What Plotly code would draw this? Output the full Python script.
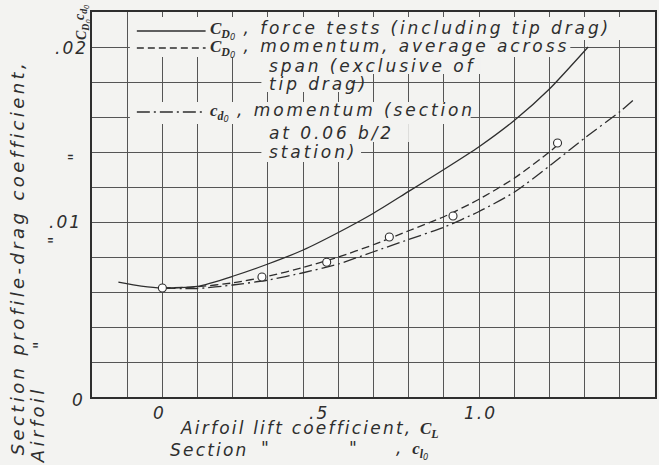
import plotly.graph_objects as go

# ---------------- data ----------------
force_cl = [-0.125, -0.06, 0.0, 0.1, 0.2, 0.3, 0.4, 0.5, 0.6, 0.7, 0.8, 0.9, 1.0, 1.1, 1.21]
force_cd = [0.00657, 0.00634, 0.00623, 0.00632, 0.0069, 0.0076, 0.0084, 0.0094, 0.0105, 0.01175,
            0.0130, 0.0143, 0.0158, 0.0176, 0.0200]

mom_avg_cl = [0.0, 0.1, 0.2, 0.3, 0.4, 0.5, 0.6, 0.7, 0.8, 0.9, 1.0, 1.1, 1.123]
mom_avg_cd = [0.00622, 0.0063, 0.00652, 0.0069, 0.0074, 0.0080, 0.0087, 0.0095, 0.0103, 0.0113, 0.0125,
              0.0140, 0.0144]

mom_pts_cl = [0.0, 0.283, 0.467, 0.645, 0.826, 1.123]
mom_pts_cd = [0.00623, 0.00686, 0.0077, 0.00914, 0.01034, 0.01451]

sect_cl = [0.0, 0.1, 0.2, 0.3, 0.4, 0.5, 0.6, 0.7, 0.8, 0.9, 1.0, 1.1, 1.2, 1.3, 1.34]
sect_cd = [0.00622, 0.0062, 0.0064, 0.00668, 0.0071, 0.0076, 0.0083, 0.0090, 0.0097, 0.0106, 0.0117,
           0.0132, 0.0148, 0.0163, 0.0170]

x_tick_vals = [0.0, 0.5, 1.0]
x_tick_text = ["0", ".5", "1.0"]
y_tick_vals = [0.0, 0.01, 0.02]
y_tick_text = ["0", ".01", ".02"]

# ---------------- layout geometry ----------------
W, H = 659, 465
L, R, T, B = 92, 2, 12, 68
x_range = [-0.2, 1.4]
y_range = [0.0, 0.022]


def px2x(px):
    return x_range[0] + (px - L) / (W - L - R) * (x_range[1] - x_range[0])


def py2y(py):
    return y_range[0] + (H - B - py) / (H - T - B) * (y_range[1] - y_range[0])


def px2p(px):
    return (px - L) / (W - L - R)


def py2p(py):
    return (H - B - py) / (H - T - B)


BG = "#f3f3f1"
INK = "#2e2e2e"
GRID = "#555555"
FONT = "DejaVu Sans, sans-serif"

fig = go.Figure()

fig.add_trace(go.Scatter(x=force_cl, y=force_cd, mode="lines",
                         line=dict(color=INK, width=1.3, shape="spline", smoothing=0.6), showlegend=False))
fig.add_trace(go.Scatter(x=mom_avg_cl, y=mom_avg_cd, mode="lines",
                         line=dict(color=INK, width=1.3, shape="spline", smoothing=0.6, dash="8px,4px"),
                         showlegend=False))
fig.add_trace(go.Scatter(x=sect_cl, y=sect_cd, mode="lines",
                         line=dict(color=INK, width=1.3, shape="spline", smoothing=0.6, dash="13px,4px,2px,4px"),
                         showlegend=False))
fig.add_trace(go.Scatter(x=mom_pts_cl, y=mom_pts_cd, mode="markers",
                         marker=dict(symbol="circle", size=8, color="white", line=dict(color=INK, width=1.1)),
                         showlegend=False))

shapes = []
# blank areas behind legend text (grid lines are interrupted there)
for (x0, x1, y0, y1) in [(130, 622, 17, 40), (130, 572, 40, 57), (262, 482, 57, 74), (262, 352, 74, 92),
                         (130, 472, 102, 124), (262, 410, 124, 142), (262, 362, 142, 162)]:
    shapes.append(dict(type="rect", xref="x", yref="y", x0=px2x(x0), x1=px2x(x1), y0=py2y(y1), y1=py2y(y0),
                       fillcolor=BG, line=dict(width=0), layer="between"))
# legend keys
for (py, dash) in [(31, "solid"), (48, "7px,4px"), (112, "13px,4px,2px,4px")]:
    shapes.append(dict(type="line", xref="x", yref="y", x0=px2x(137), x1=px2x(206), y0=py2y(py), y1=py2y(py),
                       line=dict(color=INK, width=1.3, dash=dash), layer="above"))

SER = "font-family:Liberation Serif;font-weight:bold;font-style:italic"
CD0 = f'<span style="{SER}">C</span><sub><span style="{SER}">D</span><sub>0</sub></sub>'
cd0 = f'<span style="{SER}">c</span><sub><span style="{SER}">d</span><sub>0</sub></sub>'
CL = f'<span style="{SER}">C</span><sub><span style="{SER}">L</span></sub>'
cl0 = f'<span style="{SER}">c</span><sub><span style="{SER}">l</span><sub>0</sub></sub>'


def sp(text, ls):
    return f'<span style="letter-spacing:{ls}px">{text}</span>'


ann = []


def txt(text, px, py, size=16, xanchor="left", angle=0, yanchor="middle"):
    ann.append(dict(text=text, x=px2p(px), y=py2p(py), xref="paper", yref="paper", showarrow=False,
                    xanchor=xanchor, yanchor=yanchor, textangle=angle,
                    font=dict(family=FONT, size=size, color=INK, style="italic")))


# legend text
LS, LSP = 17, 2.9
txt(CD0 + sp(" , force tests (including tip drag)", LSP), 208, 30, size=LS)
txt(CD0 + sp(" , momentum, average across", LSP), 208, 48, size=LS)
txt(sp("span (exclusive of", LSP), 268, 66, size=LS)
txt(sp("tip drag)", LSP), 268, 84, size=LS)
txt(cd0 + sp(" , momentum (section", LSP), 208, 112, size=LS)
txt(sp("at 0.06 b/2", LSP), 268, 133, size=LS)
txt(sp("station)", LSP), 268, 152, size=LS)

# tick labels (hand-lettered positions)
x_lab_px = [160, 320, 482]
for v, t, p in zip(x_tick_vals, x_tick_text, x_lab_px):
    txt(sp(t, 2), p, 413, size=17, xanchor="center")
y_lab_py = [400, 222, 48]
y_lab_px = [87, 84, 90]
for v, t, p, q in zip(y_tick_vals, y_tick_text, y_lab_py, y_lab_px):
    txt(sp(t, 2), q, p, size=17, xanchor="right")

# x-axis title
txt(sp("Airfoil lift coefficient, ", 2.2) + CL, 178, 430, size=17)
txt(sp("Section", 2.2), 168, 450, size=17)
txt("\"", 266, 448, size=17, xanchor="center")
txt("\"", 354, 448, size=17, xanchor="center")
txt(",  " + cl0, 395, 450, size=17)

# y-axis title (rotated)
txt(sp("Section profile-drag coefficient,", 3.4), 17, 258, size=18, xanchor="center", angle=-90)
txt(sp("Airfoil", 3.4), 37, 425, size=18, xanchor="center", angle=-90)
txt("\"", 40, 345, size=17, xanchor="center", angle=-90)
txt("\"", 55, 240, size=17, xanchor="center", angle=-90)
txt("\"", 75, 157, size=17, xanchor="center", angle=-90)
txt(cd0, 81, 12, size=14, xanchor="center", angle=-90)
txt(CD0, 83, 30, size=14, xanchor="center", angle=-90)

fig.update_layout(
    width=W, height=H, margin=dict(l=L, r=R, t=T, b=B),
    paper_bgcolor=BG, plot_bgcolor=BG,
    shapes=shapes, annotations=ann, showlegend=False,
    xaxis=dict(range=x_range, tick0=-0.2, dtick=0.1, showticklabels=False, ticks="",
               showgrid=True, gridcolor=GRID, gridwidth=1, zeroline=False,
               showline=True, linecolor=INK, linewidth=1.5, mirror=True),
    yaxis=dict(range=y_range, tick0=0, dtick=0.002, showticklabels=False, ticks="",
               showgrid=True, gridcolor=GRID, gridwidth=1, zeroline=False,
               showline=True, linecolor=INK, linewidth=1.5, mirror=True),
)

fig.write_html("out.html")
